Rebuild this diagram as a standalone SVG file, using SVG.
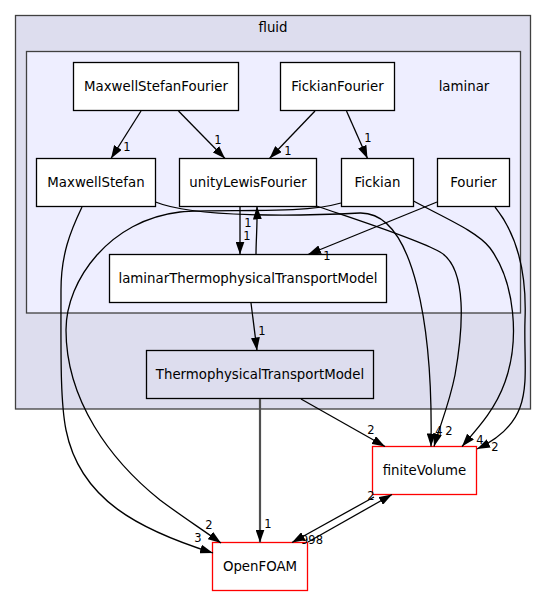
<svg xmlns="http://www.w3.org/2000/svg" width="547" height="596" viewBox="0 0 547 596">
<style>
text{font-family:"DejaVu Sans",sans-serif;font-size:13.33px;fill:#000;text-anchor:middle}
text.l{font-size:11.5px}
.c1{fill:#ddddee;stroke:#404040;stroke-width:1.3}
.c2{fill:#eeeeff;stroke:#404040;stroke-width:1.3}
.n{fill:#fff;stroke:#000;stroke-width:1.3}
.nt{fill:#ddddee;stroke:#000;stroke-width:1.3}
.nr{fill:#fff;stroke:#ff0000;stroke-width:1.3}
.e{fill:none;stroke:#000;stroke-width:1.3;marker-end:url(#ah)}
.et{fill:none;stroke:#505050;stroke-width:2.2;marker-end:url(#ah)}
</style>
<defs>
<marker id="ah" viewBox="0 0 13 9" refX="13" refY="4.5" markerWidth="13" markerHeight="9" markerUnits="userSpaceOnUse" orient="auto">
<path d="M0,0 L13,4.5 L0,9 z" fill="#000"/>
</marker>
</defs>
<g id="cluster-fluid">
<rect class="c1" x="15.5" y="15.5" width="515" height="393.5"/>
<text x="273" y="31.5">fluid</text>
</g>
<g id="cluster-laminar">
<rect class="c2" x="26.5" y="51.5" width="494" height="261.5"/>
<text x="464" y="90.5">laminar</text>
</g>
<g id="node-MaxwellStefanFourier">
<rect class="n" x="73.5" y="62.5" width="165" height="48"/>
<text x="156" y="90.5">MaxwellStefanFourier</text>
</g>
<g id="node-FickianFourier">
<rect class="n" x="280.5" y="62.5" width="114" height="48"/>
<text x="337.5" y="90.5">FickianFourier</text>
</g>
<g id="node-MaxwellStefan">
<rect class="n" x="36.5" y="158.5" width="119" height="48"/>
<text x="96" y="186.5">MaxwellStefan</text>
</g>
<g id="node-unityLewisFourier">
<rect class="n" x="179.5" y="158.5" width="137" height="48"/>
<text x="248" y="186.5">unityLewisFourier</text>
</g>
<g id="node-Fickian">
<rect class="n" x="341.5" y="158.5" width="72" height="48"/>
<text x="377.5" y="186.5">Fickian</text>
</g>
<g id="node-Fourier">
<rect class="n" x="437.5" y="158.5" width="72" height="48"/>
<text x="473.5" y="186.5">Fourier</text>
</g>
<g id="node-laminarThermophysicalTransportModel">
<rect class="n" x="109.5" y="254.5" width="277" height="48"/>
<text x="248" y="282.5">laminarThermophysicalTransportModel</text>
</g>
<g id="node-ThermophysicalTransportModel">
<rect class="nt" x="146.5" y="350.5" width="227" height="48"/>
<text x="260" y="378.5">ThermophysicalTransportModel</text>
</g>
<g id="node-finiteVolume">
<rect class="nr" x="372.5" y="446.5" width="104" height="48"/>
<text x="424.5" y="474.5">finiteVolume</text>
</g>
<g id="node-OpenFOAM">
<rect class="nr" x="212.5" y="542.5" width="95" height="48"/>
<text x="260" y="570.5">OpenFOAM</text>
</g>
<g id="connectors">
<path class="e" d="M141,111 L111,158.5"/>
<text class="l" x="127" y="151">1</text>
<path class="e" d="M178.5,111 L225,158.5"/>
<text class="l" x="218" y="144">1</text>
<path class="e" d="M315,111 L269.5,158.5"/>
<text class="l" x="288" y="155">1</text>
<path class="e" d="M346.5,111 L367.5,158.5"/>
<text class="l" x="368" y="142">1</text>
<path class="e" d="M240,207 L240,254.5"/>
<text class="l" x="247" y="239.5">1</text>
<path class="e" d="M256,254.5 C256,240 257.5,225 257,206.5"/>
<text class="l" x="248" y="227">1</text>
<path class="e" d="M437,202 L308,254.5"/>
<text class="l" x="327" y="260">1</text>
<path class="e" d="M251,303 L257,350.5"/>
<text class="l" x="262" y="335">1</text>
<path class="e" d="M301,399 L385,446.5"/>
<text class="l" x="371" y="434">2</text>
<path class="et" d="M260,399 L260,542.5"/>
<text class="l" x="268" y="528">1</text>
<path class="e" d="M374,497 L292,542.5"/>
<text class="l" x="312" y="544">998</text>
<path class="e" d="M308,542 L392,494.5"/>
<text class="l" x="371" y="500">2</text>
<path class="e" d="M82,207 C70,232 61,255 61,290 C61,350 60,400 66,430 C80,500 140,530 213,553"/>
<text class="l" x="198" y="542">3</text>
<path class="e" d="M341,203 C300,215 220,208 180,212 C110,220 66,280 66,330 C66,400 110,460 160,500 C180,515 200,528 221,543"/>
<text class="l" x="209" y="529">2</text>
<path class="e" d="M155.5,202 C195,218 300,216 360,213 C415,212 433,330 431,446.5"/>
<text class="l" x="439" y="435">4</text>
<path class="e" d="M316.5,206 C345,216 415,238 440,252 C468,268 463,330 455,375 C449,405 440,425 434,446.5"/>
<text class="l" x="449" y="435">2</text>
<path class="e" d="M413.5,201 C445,218 478,232 490,248 C515,282 520,340 505,382 C495,410 478,428 462,446.5"/>
<text class="l" x="480" y="444">4</text>
<path class="e" d="M495,207 C515,232 527,270 525,320 C523,380 538,420 477,449"/>
<text class="l" x="495" y="451">2</text>
</g>
</svg>
